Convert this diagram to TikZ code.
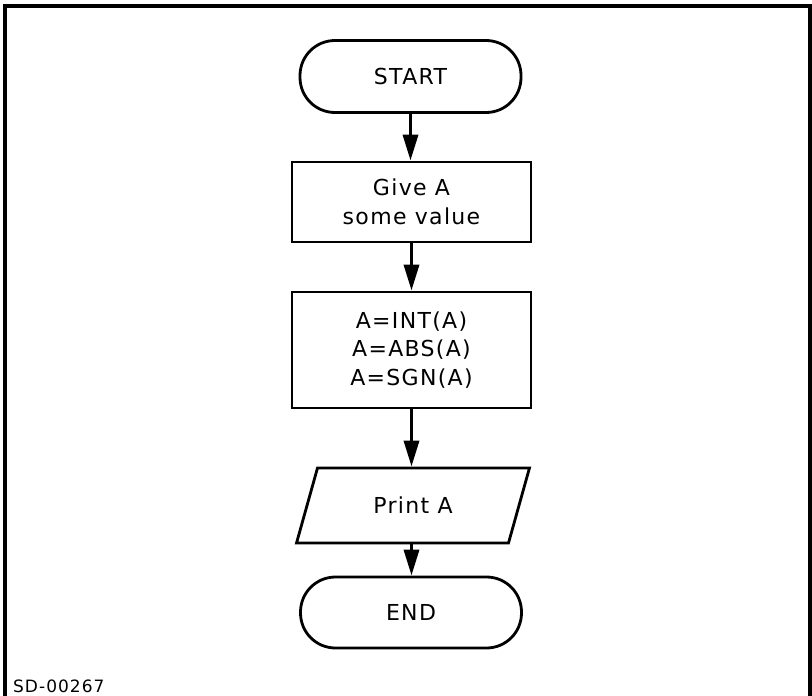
\documentclass[tikz,border=0pt]{standalone}
\usepackage{fontspec}
\setmainfont[LetterSpace=6]{DejaVu Sans}
\usetikzlibrary{shapes.geometric,arrows.meta}
\begin{document}
\begin{tikzpicture}[x=1pt,y=-1pt,
  every node/.style={font=\fontsize{22}{28.5}\selectfont, align=center, inner sep=0pt},
  terminal/.style={draw, line width=2.8pt, rounded corners=35pt, minimum width=221pt, minimum height=72pt},
  procbox/.style={draw, line width=2.8pt, minimum width=239pt},
  iobox/.style={draw, line width=2.8pt, trapezium, trapezium left angle=62.5, trapezium right angle=117.5,
    trapezium stretches=true, minimum width=234pt, minimum height=75pt},
  flow/.style={line width=3.5pt, -{Triangle[width=15pt,length=26pt]}}]
\useasboundingbox (0,0) rectangle (812,696);
% open frame around the chart
\draw[line width=3.5pt] (5,696) -- (5,6) -- (810,6) -- (810,696);

\node[terminal] (start) at (410.5,76.5) {START};
\node[procbox, minimum height=80pt] (give) at (411.5,202) {Give A\\some value};
\node[procbox, minimum height=116pt] (calc) at (411.5,350) {A=INT(A)\\A=ABS(A)\\A=SGN(A)};
\node[iobox] (print) at (413,505.5) {Print A};
\node[terminal, minimum height=71pt] (end) at (411,612.5) {END};

\draw[flow] (start.south) -- (start.south |- give.north);
\draw[flow] (give.south) -- (give.south |- calc.north);
\draw[flow] (calc.south) -- (calc.south |- print.north);
\draw[flow] (calc.south |- print.south) -- (calc.south |- end.north);

\node[anchor=west, font=\fontsize{17}{20}\selectfont] (id) at (13,686) {SD-00267};
\end{tikzpicture}
\end{document}
